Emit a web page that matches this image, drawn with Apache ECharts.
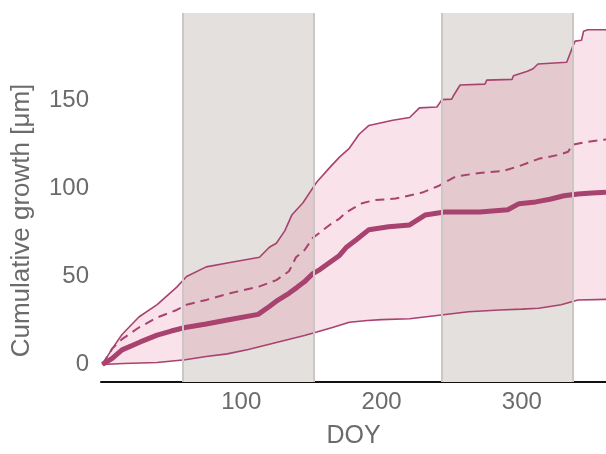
<!DOCTYPE html>
<html>
<head>
<meta charset="utf-8">
<script src="https://cdn.jsdelivr.net/npm/echarts@6/dist/echarts.min.js"></script>
<style>
  html, body { margin: 0; padding: 0; background: #fff; }
  #chart { width: 606px; height: 454px; }
</style>
</head>
<body>
<div id="chart"></div>
<script>
// Upper envelope of cumulative growth (day of year, µm)
const upperDoy = [1, 8, 15, 27, 40, 54, 61, 75, 92, 113, 120, 125, 131, 136, 144, 151, 154, 163, 170, 177, 184, 191, 208, 220, 227, 239.5, 243, 250, 251, 256, 273.7, 275, 293, 294, 299, 304, 308, 311.5, 332, 336, 338, 342.5, 344, 347, 360];
const upperVal = [0, 9, 17, 27, 34, 44, 50, 55.5, 58, 61, 66.7, 69, 76, 85, 92, 100.5, 104, 112, 118, 123, 131, 136, 139, 140.5, 146, 146.5, 150.7, 151, 152.6, 159, 159.5, 161.8, 162.2, 164.3, 165.6, 166.8, 168.3, 171, 172, 180.4, 184, 184.5, 189.6, 190.5, 190.5];

// Lower envelope
const lowerDoy = [1, 16, 28, 40, 60, 75, 90, 105, 115, 125, 135, 145, 152, 165, 177, 190, 200, 220, 241, 262, 284, 300, 312, 328, 340, 360];
const lowerVal = [0, 0.5, 0.8, 1.1, 2.7, 4.5, 6, 8.5, 10.5, 12.5, 14.5, 16.5, 18, 21, 24, 25, 25.5, 26, 28, 30, 31, 31.5, 32, 34, 36.7, 37];

// Median growth (thick line)
const medianDoy = [1, 8, 15, 28, 40, 50, 60, 75, 92, 112, 120, 125, 134, 140, 145, 151, 156, 163, 170, 175, 182, 191, 205, 220, 231, 245, 270, 290, 298, 310, 320, 330, 340, 350, 360];
const medianVal = [0, 3.5, 8.3, 12.8, 16.7, 19, 21, 23, 25.6, 28.5, 33, 36, 40.5, 44, 47, 51.7, 54, 58, 62, 66.7, 71, 76.7, 78.3, 79.4, 85, 86.7, 86.7, 88, 91.5, 92.5, 94, 96, 97, 97.5, 98];

// Mean growth (dashed line)
const meanDoy = [1, 8, 15, 27, 40, 54, 61, 75, 92, 113, 125, 134, 139, 145, 151, 156, 163, 170, 175, 180, 186, 195, 210, 229, 241, 253, 270, 286, 298, 312, 327, 333, 336, 345, 360];
const meanVal = [0, 9, 14.4, 21, 26.7, 31, 34, 36.7, 40.5, 44.4, 48, 53, 61, 65, 72, 75, 79.4, 83, 86.7, 89, 91.7, 93.5, 94.4, 97.8, 101.7, 107, 109, 110, 112.8, 117, 119.4, 121, 125, 126.5, 128];

// Shaded periods (day of year)
const periods = [[58, 152], [243, 336]];

// Axis ticks
const xTicks = [100, 200, 300];
const yTicks = [0, 50, 100, 150];

const lineColor = '#a8426e';
const textColor = '#6b6b6b';
const fontFamily = 'Liberation Sans, Arial, sans-serif';
const pairs = (xs, ys) => xs.map((x, i) => [x, ys[i]]);

const chart = echarts.init(document.getElementById('chart'), null, { renderer: 'canvas' });

chart.setOption({
  animation: false,
  backgroundColor: '#ffffff',
  grid: { left: 101, right: 0, top: 13, bottom: 63, containLabel: false },
  xAxis: {
    type: 'value',
    min: 0,
    max: 360,
    interval: 100,
    name: 'DOY',
    nameLocation: 'middle',
    nameGap: 42,
    nameTextStyle: { color: textColor, fontSize: 25, fontFamily },
    axisLine: { show: true, onZero: false, lineStyle: { color: '#111', width: 2 } },
    axisTick: { show: false },
    splitLine: { show: false },
    axisLabel: {
      color: textColor,
      fontSize: 24,
      fontFamily,
      margin: 8,
      showMinLabel: false,
      showMaxLabel: false,
      formatter: v => (xTicks.includes(v) ? String(v) : '')
    }
  },
  yAxis: {
    type: 'value',
    min: -10,
    max: 200,
    interval: 10,
    name: 'Cumulative growth [μm]',
    nameLocation: 'middle',
    nameGap: 66,
    nameTextStyle: { color: textColor, fontSize: 26, fontFamily, padding: [0, 46, 0, 0] },
    axisLine: { show: false },
    axisTick: { show: false },
    splitLine: { show: false },
    axisLabel: {
      color: textColor,
      fontSize: 24,
      fontFamily,
      margin: 12,
      showMaxLabel: false,
      formatter: v => (yTicks.includes(v) ? String(v) : '')
    }
  },
  series: [
    {
      // shaded periods
      type: 'line',
      data: [],
      z: 1,
      silent: true,
      markArea: {
        silent: true,
        itemStyle: { color: '#e4e0de' },
        data: periods.map(p => [{ xAxis: p[0] }, { xAxis: p[1] }])
      },
      markLine: {
        silent: true,
        symbol: 'none',
        label: { show: false },
        lineStyle: { color: '#ccc7c5', width: 2, type: 'solid' },
        data: periods.flat().map(d => ({ xAxis: d }))
      }
    },
    {
      // band between lower and upper envelopes
      type: 'custom',
      z: 2,
      silent: true,
      data: [[0, 0]],
      renderItem: (params, api) => {
        const pts = upperDoy.map((d, i) => api.coord([d, upperVal[i]]));
        for (let i = lowerDoy.length - 1; i >= 0; i--) {
          pts.push(api.coord([lowerDoy[i], lowerVal[i]]));
        }
        return {
          type: 'polygon',
          shape: { points: pts },
          style: { fill: 'rgba(232, 110, 150, 0.2)' }
        };
      }
    },
    {
      name: 'upper',
      type: 'line',
      z: 3,
      data: pairs(upperDoy, upperVal),
      showSymbol: false,
      lineStyle: { color: lineColor, width: 1.6 }
    },
    {
      name: 'lower',
      type: 'line',
      z: 3,
      data: pairs(lowerDoy, lowerVal),
      showSymbol: false,
      lineStyle: { color: lineColor, width: 1.6 }
    },
    {
      name: 'mean',
      type: 'line',
      z: 3,
      data: pairs(meanDoy, meanVal),
      showSymbol: false,
      lineStyle: { color: lineColor, width: 2, type: [9, 6] }
    },
    {
      name: 'median',
      type: 'line',
      z: 4,
      data: pairs(medianDoy, medianVal),
      showSymbol: false,
      lineStyle: { color: lineColor, width: 5 }
    }
  ]
});
</script>
</body>
</html>
